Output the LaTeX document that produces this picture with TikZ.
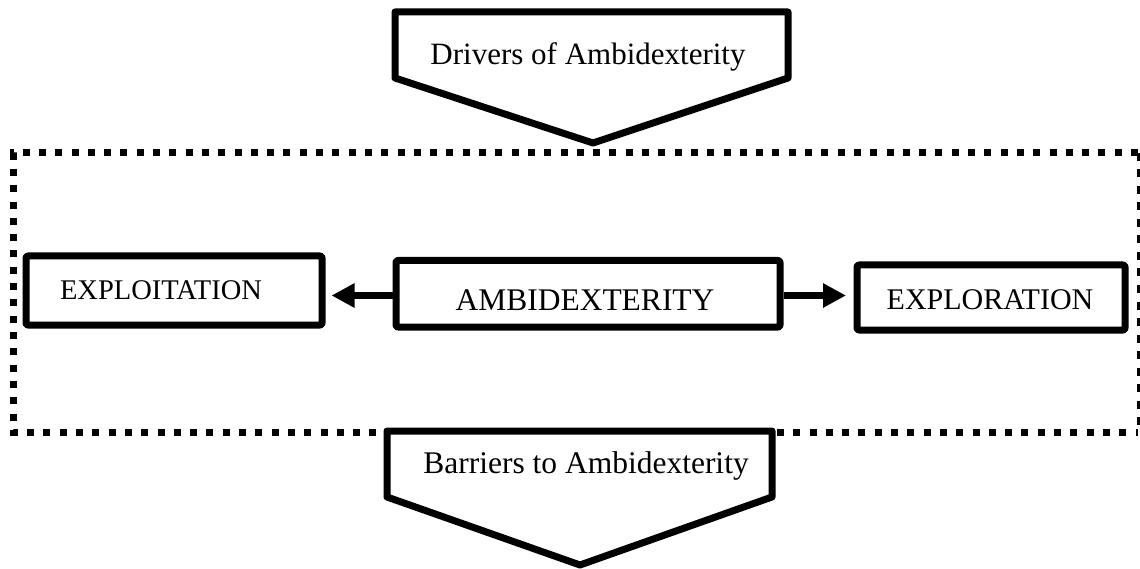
\documentclass[tikz,border=0pt]{standalone}
\usepackage{fontspec}
\setmainfont{Liberation Serif}
\usetikzlibrary{arrows.meta}
\begin{document}
\begin{tikzpicture}[x=1pt,y=-1pt,
  thickline/.style={line width=7pt, line join=round},
  boxnode/.style={draw, thickline, rectangle, rounded corners=2pt, inner sep=0pt, fill=white},
  label/.style={anchor=base, inner sep=0pt},
  linkarrow/.style={thickline, -{Triangle[length=23pt,width=23pt]}},
  dotframe/.style={line width=7pt, dash pattern=on 7pt off 9.3pt},
  dashframe/.style={line width=3pt, dash pattern=on 8pt off 8.5pt}]
\useasboundingbox (0,0) rectangle (1140,569);

% frame around the three activity boxes
\coordinate (fTL) at (13,153);
\coordinate (fTR) at (1138,153);
\coordinate (fBL) at (13,432);
\coordinate (fBR) at (1138,432);
\draw[dotframe] (fTR) -- (fTL) -- (fBL) -- (fBR);
\draw[dashframe] (fTR) -- (fBR);

% upper pentagon arrow
\draw[thickline, fill=white] (395,12) -- (788,12) -- (788,78) -- (593,143) -- (395,78) -- cycle;
\node[label, font=\fontsize{31}{36}\selectfont] (drivers) at (588,65) {Drivers of Ambidexterity};

% lower pentagon arrow
\draw[thickline, fill=white] (387,431) -- (772,431) -- (772,497) -- (580,565) -- (387,497) -- cycle;
\node[label, font=\fontsize{31.5}{36}\selectfont] (barriers) at (586,473) {Barriers to Ambidexterity};

% activity boxes
\node[boxnode, minimum width=296pt, minimum height=69pt] (exploit) at (174,290.5) {};
\node[label, font=\fontsize{28.5}{34}\selectfont] (exploitT) at (161,299) {EXPLOITATION};

\node[boxnode, minimum width=384pt, minimum height=66.5pt] (ambi) at (588,293.75) {};
\node[label, font=\fontsize{31.5}{36}\selectfont] (ambiT) at (585,310) {AMBIDEXTERITY};

\node[boxnode, minimum width=268pt, minimum height=65pt] (explore) at (991,297.5) {};
\node[label, font=\fontsize{30}{36}\selectfont] (exploreT) at (990,309) {EXPLORATION};

% links
\draw[linkarrow, shorten >=6pt] ([yshift=-1.75pt]ambi.west) -- ([yshift=-1.75pt]ambi.west -| exploit.east);
\draw[linkarrow, shorten >=7.5pt] ([yshift=-1.75pt]ambi.east) -- ([yshift=-1.75pt]ambi.east -| explore.west);
\end{tikzpicture}
\end{document}
